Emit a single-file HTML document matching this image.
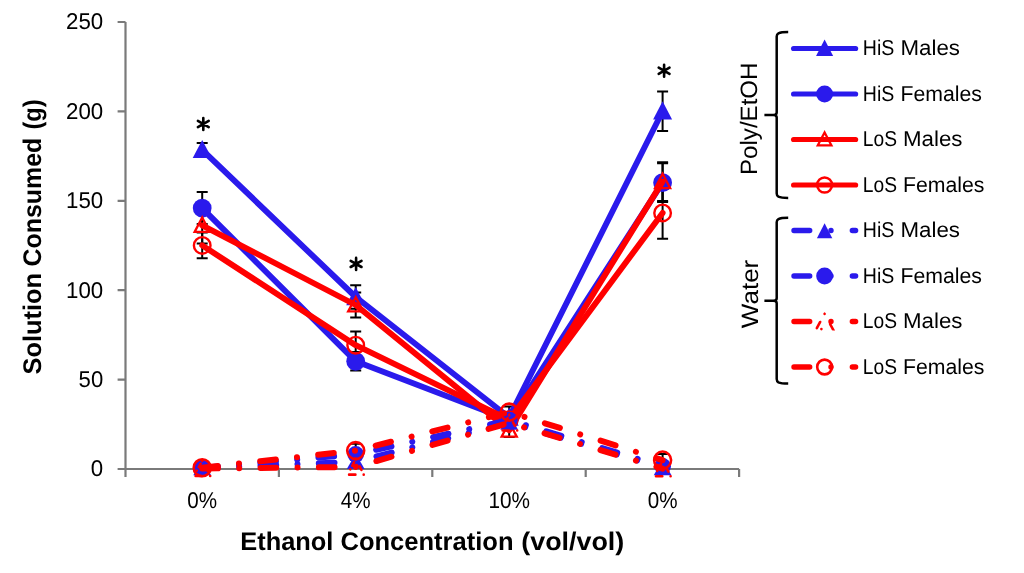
<!DOCTYPE html>
<html><head><meta charset="utf-8"><style>
html,body{margin:0;padding:0;background:#fff;width:1024px;height:573px;overflow:hidden}
svg{display:block;will-change:transform}
text{font-family:"Liberation Sans",sans-serif;fill:#000;text-rendering:geometricPrecision}
.tk{font-size:22.8px}
.lg{font-size:21.5px}
.lg2{font-size:23.7px}
.ttl{font-size:25.5px;font-weight:bold}
</style></head><body>
<svg width="1024" height="573" viewBox="0 0 1024 573">
<rect width="1024" height="573" fill="#fff"/>
<path d="M125.5 22V469H739.1" stroke="#7a7a7a" stroke-width="2.2" fill="none"/>
<path d="M117.6 469.0H125.5 M117.6 379.6H125.5 M117.6 290.2H125.5 M117.6 200.8H125.5 M117.6 111.4H125.5 M117.6 22.0H125.5 M125.5 469V477 M278.9 469V477 M432.3 469V477 M585.7 469V477 M739.1 469V477" stroke="#7a7a7a" stroke-width="2.2" fill="none"/>
<text x="103.2" y="476.3" text-anchor="end" class="tk" textLength="12.4" lengthAdjust="spacingAndGlyphs">0</text>
<text x="103.2" y="386.9" text-anchor="end" class="tk" textLength="24.6" lengthAdjust="spacingAndGlyphs">50</text>
<text x="103.2" y="297.5" text-anchor="end" class="tk" textLength="37.2" lengthAdjust="spacingAndGlyphs">100</text>
<text x="103.2" y="208.1" text-anchor="end" class="tk" textLength="37.2" lengthAdjust="spacingAndGlyphs">150</text>
<text x="103.2" y="118.7" text-anchor="end" class="tk" textLength="37.2" lengthAdjust="spacingAndGlyphs">200</text>
<text x="103.2" y="29.3" text-anchor="end" class="tk" textLength="37.2" lengthAdjust="spacingAndGlyphs">250</text>
<text x="202.2" y="507.9" text-anchor="middle" class="tk" textLength="29.8" lengthAdjust="spacingAndGlyphs">0%</text>
<text x="355.7" y="507.9" text-anchor="middle" class="tk" textLength="29.8" lengthAdjust="spacingAndGlyphs">4%</text>
<text x="509.2" y="507.9" text-anchor="middle" class="tk" textLength="41.6" lengthAdjust="spacingAndGlyphs">10%</text>
<text x="662.6" y="507.9" text-anchor="middle" class="tk" textLength="29.8" lengthAdjust="spacingAndGlyphs">0%</text>
<text x="240.29" y="549.7" class="ttl" textLength="93.12" lengthAdjust="spacingAndGlyphs">Ethanol</text>
<text x="340.50" y="549.7" class="ttl" textLength="173.00" lengthAdjust="spacingAndGlyphs">Concentration</text>
<text x="521.30" y="549.7" class="ttl" textLength="103.00" lengthAdjust="spacingAndGlyphs">(vol/vol)</text>
<text transform="translate(41.4,374.50) rotate(-90)" x="0" y="0" class="ttl" textLength="101.51" lengthAdjust="spacingAndGlyphs">Solution</text>
<text transform="translate(41.4,266.51) rotate(-90)" x="0" y="0" class="ttl" textLength="128.82" lengthAdjust="spacingAndGlyphs">Consumed</text>
<text transform="translate(41.4,129.52) rotate(-90)" x="0" y="0" class="ttl" textLength="30.23" lengthAdjust="spacingAndGlyphs">(g)</text>
<path d="M202.2 142.9V156.9M196.7 142.9H207.7M196.7 156.9H207.7" stroke="#000" stroke-width="2" fill="none"/>
<path d="M355.7 285.2V308.8M350.2 285.2H361.2M350.2 308.8H361.2" stroke="#000" stroke-width="2" fill="none"/>
<path d="M509.2 412.5V422.5M503.7 412.5H514.7M503.7 422.5H514.7" stroke="#000" stroke-width="2" fill="none"/>
<path d="M662.6 91.5V131.1M657.1 91.5H668.1M657.1 131.1H668.1" stroke="#000" stroke-width="2" fill="none"/>
<path d="M202.2 192.1V224.1M196.7 192.1H207.7M196.7 224.1H207.7" stroke="#000" stroke-width="2" fill="none"/>
<path d="M355.7 352.0V370.6M350.2 352.0H361.2M350.2 370.6H361.2" stroke="#000" stroke-width="2" fill="none"/>
<path d="M509.2 415.0V425.0M503.7 415.0H514.7M503.7 425.0H514.7" stroke="#000" stroke-width="2" fill="none"/>
<path d="M662.6 163.3V202.1M657.1 163.3H668.1M657.1 202.1H668.1" stroke="#000" stroke-width="2" fill="none"/>
<path d="M202.2 207.2V243.6M196.7 207.2H207.7M196.7 243.6H207.7" stroke="#000" stroke-width="2" fill="none"/>
<path d="M355.7 292.4V317.6M350.2 292.4H361.2M350.2 317.6H361.2" stroke="#000" stroke-width="2" fill="none"/>
<path d="M509.2 423.4V437.0M503.7 423.4H514.7M503.7 437.0H514.7" stroke="#000" stroke-width="2" fill="none"/>
<path d="M662.6 162.3V200.9M657.1 162.3H668.1M657.1 200.9H668.1" stroke="#000" stroke-width="2" fill="none"/>
<path d="M202.2 232.6V258.2M196.7 232.6H207.7M196.7 258.2H207.7" stroke="#000" stroke-width="2" fill="none"/>
<path d="M355.7 331.6V358.8M350.2 331.6H361.2M350.2 358.8H361.2" stroke="#000" stroke-width="2" fill="none"/>
<path d="M509.2 413.8V425.8M503.7 413.8H514.7M503.7 425.8H514.7" stroke="#000" stroke-width="2" fill="none"/>
<path d="M662.6 187.0V238.8M657.1 187.0H668.1M657.1 238.8H668.1" stroke="#000" stroke-width="2" fill="none"/>
<path d="M355.7 443.8V457.4M350.2 443.8H361.2M350.2 457.4H361.2" stroke="#000" stroke-width="2" fill="none"/>
<path d="M509.2 406.6V417.6M503.7 406.6H514.7M503.7 417.6H514.7" stroke="#000" stroke-width="2" fill="none"/>
<path d="M662.6 453.9V466.3M657.1 453.9H668.1M657.1 466.3H668.1" stroke="#000" stroke-width="2" fill="none"/>
<polyline points="202.2,149.9 355.7,297.0 509.2,417.5 662.6,111.3" fill="none" stroke="#2a1aec" stroke-width="5.9" stroke-linejoin="round" stroke-linecap="round"/>
<polygon points="202.20,139.90 211.70,158.10 192.70,158.10" fill="#2a1aec" stroke="none" stroke-width="0" stroke-linejoin="miter"/>
<polygon points="355.70,287.00 365.20,305.20 346.20,305.20" fill="#2a1aec" stroke="none" stroke-width="0" stroke-linejoin="miter"/>
<polygon points="509.20,407.50 518.70,425.70 499.70,425.70" fill="#2a1aec" stroke="none" stroke-width="0" stroke-linejoin="miter"/>
<polygon points="662.60,101.30 672.10,119.50 653.10,119.50" fill="#2a1aec" stroke="none" stroke-width="0" stroke-linejoin="miter"/>
<polyline points="202.2,208.1 355.7,361.3 509.2,420.0 662.6,182.7" fill="none" stroke="#2a1aec" stroke-width="5.9" stroke-linejoin="round" stroke-linecap="round"/>
<circle cx="202.20" cy="208.10" r="9.4" fill="#2a1aec" stroke="none" stroke-width="0"/>
<circle cx="355.70" cy="361.30" r="9.4" fill="#2a1aec" stroke="none" stroke-width="0"/>
<circle cx="509.20" cy="420.00" r="9.4" fill="#2a1aec" stroke="none" stroke-width="0"/>
<circle cx="662.60" cy="182.70" r="9.4" fill="#2a1aec" stroke="none" stroke-width="0"/>
<polyline points="202.2,225.4 355.7,305.0 509.2,430.2 662.6,181.6" fill="none" stroke="#ff0000" stroke-width="5.9" stroke-linejoin="round" stroke-linecap="round"/>
<polygon points="202.20,217.55 209.75,231.85 194.65,231.85" fill="none" stroke="#ff0000" stroke-width="2.3" stroke-linejoin="miter"/>
<polygon points="355.70,297.15 363.25,311.45 348.15,311.45" fill="none" stroke="#ff0000" stroke-width="2.3" stroke-linejoin="miter"/>
<polygon points="509.20,422.35 516.75,436.65 501.65,436.65" fill="none" stroke="#ff0000" stroke-width="2.3" stroke-linejoin="miter"/>
<polygon points="662.60,173.75 670.15,188.05 655.05,188.05" fill="none" stroke="#ff0000" stroke-width="2.3" stroke-linejoin="miter"/>
<polyline points="202.2,245.4 355.7,345.2 509.2,419.8 662.6,212.9" fill="none" stroke="#ff0000" stroke-width="5.9" stroke-linejoin="round" stroke-linecap="round"/>
<circle cx="202.20" cy="245.40" r="8.3" fill="none" stroke="#ff0000" stroke-width="2.4"/>
<circle cx="355.70" cy="345.20" r="8.3" fill="none" stroke="#ff0000" stroke-width="2.4"/>
<circle cx="509.20" cy="419.80" r="8.3" fill="none" stroke="#ff0000" stroke-width="2.4"/>
<circle cx="662.60" cy="212.90" r="8.3" fill="none" stroke="#ff0000" stroke-width="2.4"/>
<polyline points="202.2,468.1 355.7,461.8 509.2,422.5 662.6,467.9" fill="none" stroke="#2a1aec" stroke-width="6" stroke-linejoin="round" stroke-linecap="round" stroke-dasharray="15.7 21.3 0.01 21.34"/>
<polygon points="202.20,459.86 211.09,475.36 193.31,475.36" fill="#2a1aec" stroke="none" stroke-width="0" stroke-linejoin="miter"/>
<polygon points="355.70,453.60 364.59,469.10 346.81,469.10" fill="#2a1aec" stroke="none" stroke-width="0" stroke-linejoin="miter"/>
<polygon points="509.20,414.26 518.09,429.76 500.31,429.76" fill="#2a1aec" stroke="none" stroke-width="0" stroke-linejoin="miter"/>
<polygon points="662.60,459.68 671.49,475.18 653.71,475.18" fill="#2a1aec" stroke="none" stroke-width="0" stroke-linejoin="miter"/>
<polyline points="202.2,467.9 355.7,454.3 509.2,420.2 662.6,466.3" fill="none" stroke="#2a1aec" stroke-width="6" stroke-linejoin="round" stroke-linecap="round" stroke-dasharray="15.7 21.3 0.01 21.34"/>
<circle cx="202.20" cy="467.93" r="8.4" fill="#2a1aec" stroke="none" stroke-width="0"/>
<circle cx="355.70" cy="454.34" r="8.4" fill="#2a1aec" stroke="none" stroke-width="0"/>
<circle cx="509.20" cy="420.19" r="8.4" fill="#2a1aec" stroke="none" stroke-width="0"/>
<circle cx="662.60" cy="466.32" r="8.4" fill="#2a1aec" stroke="none" stroke-width="0"/>
<polyline points="202.2,468.5 355.7,467.0 509.2,422.9 662.6,468.6" fill="none" stroke="#ff0000" stroke-width="6" stroke-linejoin="round" stroke-linecap="round" stroke-dasharray="15.7 21.3 0.01 21.34"/>
<polygon points="202.20,460.86 210.50,476.06 193.90,476.06" fill="none" stroke="#ff0000" stroke-width="2.6" stroke-linecap="round" stroke-dasharray="0.01 8 4 5.6 0.01 8.3 6.3 7.8 0.01 4 4 3.2"/>
<polygon points="355.70,459.43 364.00,474.63 347.40,474.63" fill="none" stroke="#ff0000" stroke-width="2.6" stroke-linecap="round" stroke-dasharray="0.01 8 4 5.6 0.01 8.3 6.3 7.8 0.01 4 4 3.2"/>
<polygon points="509.20,415.27 517.50,430.47 500.90,430.47" fill="none" stroke="#ff0000" stroke-width="2.6" stroke-linecap="round" stroke-dasharray="0.01 8 4 5.6 0.01 8.3 6.3 7.8 0.01 4 4 3.2"/>
<polygon points="662.60,461.04 670.90,476.24 654.30,476.24" fill="none" stroke="#ff0000" stroke-width="2.6" stroke-linecap="round" stroke-dasharray="0.01 8 4 5.6 0.01 8.3 6.3 7.8 0.01 4 4 3.2"/>
<polyline points="202.2,467.7 355.7,450.6 509.2,412.1 662.6,460.1" fill="none" stroke="#ff0000" stroke-width="6" stroke-linejoin="round" stroke-linecap="round" stroke-dasharray="15.7 21.3 0.01 21.34"/>
<circle cx="202.20" cy="467.75" r="8.5" fill="none" stroke="#ff0000" stroke-width="2.6"/>
<circle cx="355.70" cy="450.58" r="8.5" fill="none" stroke="#ff0000" stroke-width="2.6"/>
<circle cx="509.20" cy="412.14" r="8.5" fill="none" stroke="#ff0000" stroke-width="2.6"/>
<circle cx="662.60" cy="460.06" r="8.5" fill="none" stroke="#ff0000" stroke-width="2.6"/>
<g stroke="#000" stroke-width="2.6" stroke-linecap="round"><path d="M203.3 118.0V130.0M197.9 120.9L208.7 127.1M197.9 127.1L208.7 120.9"/></g>
<g stroke="#000" stroke-width="2.6" stroke-linecap="round"><path d="M356.1 257.9V269.9M350.7 260.8L361.5 267.0M350.7 267.0L361.5 260.8"/></g>
<g stroke="#000" stroke-width="2.6" stroke-linecap="round"><path d="M664.1 64.7V76.7M658.7 67.6L669.5 73.8M658.7 73.8L669.5 67.6"/></g>
<path d="M788.2 32.0C784 32.0 780.5 32.3 778.4 33.3Q776.7 34.2 776.7 36.5V112.4Q776.7 114.9 773.2 114.9H764.4M773.2 114.9Q776.7 114.9 776.7 117.4V193.4Q776.7 195.7 778.4 196.6C780.5 197.6 784 197.9 788.2 197.9" stroke="#000" stroke-width="2.5" fill="none"/>
<path d="M788.2 217.8C784 217.8 780.5 218.1 778.4 219.1Q776.7 220.0 776.7 222.3V298.2Q776.7 300.7 773.2 300.7H764.4M773.2 300.7Q776.7 300.7 776.7 303.2V379.1Q776.7 381.4 778.4 382.3C780.5 383.3 784 383.6 788.2 383.6" stroke="#000" stroke-width="2.5" fill="none"/>
<text transform="translate(757.1,175.0) rotate(-90)" class="lg2" textLength="112.5" lengthAdjust="spacingAndGlyphs">Poly/EtOH</text>
<text transform="translate(758.2,328.2) rotate(-90)" class="lg2" textLength="68.5" lengthAdjust="spacingAndGlyphs">Water</text>
<path d="M793.6 48.5H855.6" stroke="#2a1aec" stroke-width="5.2" stroke-linecap="round" fill="none"/>
<polygon points="824.60,39.50 833.15,55.88 816.05,55.88" fill="#2a1aec" stroke="none" stroke-width="0" stroke-linejoin="miter"/>
<text x="862.80" y="55.1" class="lg" textLength="31.50" lengthAdjust="spacingAndGlyphs">HiS</text>
<text x="900.50" y="55.1" class="lg" textLength="59.50" lengthAdjust="spacingAndGlyphs">Males</text>
<path d="M793.6 94.0H855.6" stroke="#2a1aec" stroke-width="5.2" stroke-linecap="round" fill="none"/>
<circle cx="824.60" cy="94.00" r="8.46" fill="#2a1aec" stroke="none" stroke-width="0"/>
<text x="862.80" y="100.6" class="lg" textLength="31.50" lengthAdjust="spacingAndGlyphs">HiS</text>
<text x="900.50" y="100.6" class="lg" textLength="81.50" lengthAdjust="spacingAndGlyphs">Females</text>
<path d="M793.6 139.5H855.6" stroke="#ff0000" stroke-width="5.2" stroke-linecap="round" fill="none"/>
<polygon points="824.60,132.44 831.39,145.31 817.81,145.31" fill="none" stroke="#ff0000" stroke-width="2.3" stroke-linejoin="miter"/>
<text x="862.80" y="146.1" class="lg" textLength="34.20" lengthAdjust="spacingAndGlyphs">LoS</text>
<text x="903.00" y="146.1" class="lg" textLength="59.50" lengthAdjust="spacingAndGlyphs">Males</text>
<path d="M793.6 185.0H855.6" stroke="#ff0000" stroke-width="5.2" stroke-linecap="round" fill="none"/>
<circle cx="824.60" cy="185.00" r="7.470000000000001" fill="none" stroke="#ff0000" stroke-width="2.4"/>
<text x="862.80" y="191.6" class="lg" textLength="34.20" lengthAdjust="spacingAndGlyphs">LoS</text>
<text x="903.00" y="191.6" class="lg" textLength="81.50" lengthAdjust="spacingAndGlyphs">Females</text>
<path d="M794 230.5H855.6" stroke="#2a1aec" stroke-width="5.4" fill="none" stroke-linecap="round" stroke-dasharray="15.7 21.3 0.01 21.34"/>
<polygon points="824.60,223.20 832.30,238.20 816.90,238.20" fill="#2a1aec" stroke="none" stroke-width="0" stroke-linejoin="miter"/>
<text x="862.80" y="237.1" class="lg" textLength="31.50" lengthAdjust="spacingAndGlyphs">HiS</text>
<text x="900.50" y="237.1" class="lg" textLength="59.50" lengthAdjust="spacingAndGlyphs">Males</text>
<path d="M794 276.0H855.6" stroke="#2a1aec" stroke-width="5.4" fill="none" stroke-linecap="round" stroke-dasharray="15.7 21.3 0.01 21.34"/>
<circle cx="824.60" cy="276.00" r="8.4" fill="#2a1aec" stroke="none" stroke-width="0"/>
<text x="862.80" y="282.6" class="lg" textLength="31.50" lengthAdjust="spacingAndGlyphs">HiS</text>
<text x="900.50" y="282.6" class="lg" textLength="81.50" lengthAdjust="spacingAndGlyphs">Females</text>
<path d="M794 321.5H855.6" stroke="#ff0000" stroke-width="5.4" fill="none" stroke-linecap="round" stroke-dasharray="15.7 21.3 0.01 21.34"/>
<polygon points="824.60,313.90 832.90,329.10 816.30,329.10" fill="none" stroke="#ff0000" stroke-width="2.6" stroke-linecap="round" stroke-dasharray="0.01 11.5 6 11.3 0.01 6.2 7 9.2"/>
<text x="862.80" y="328.1" class="lg" textLength="34.20" lengthAdjust="spacingAndGlyphs">LoS</text>
<text x="903.00" y="328.1" class="lg" textLength="59.50" lengthAdjust="spacingAndGlyphs">Males</text>
<path d="M794 367.0H855.6" stroke="#ff0000" stroke-width="5.4" fill="none" stroke-linecap="round" stroke-dasharray="15.7 21.3 0.01 21.34"/>
<circle cx="824.60" cy="367.00" r="7.4" fill="none" stroke="#ff0000" stroke-width="2.6"/>
<text x="862.80" y="373.6" class="lg" textLength="34.20" lengthAdjust="spacingAndGlyphs">LoS</text>
<text x="903.00" y="373.6" class="lg" textLength="81.50" lengthAdjust="spacingAndGlyphs">Females</text>
</svg>
</body></html>
